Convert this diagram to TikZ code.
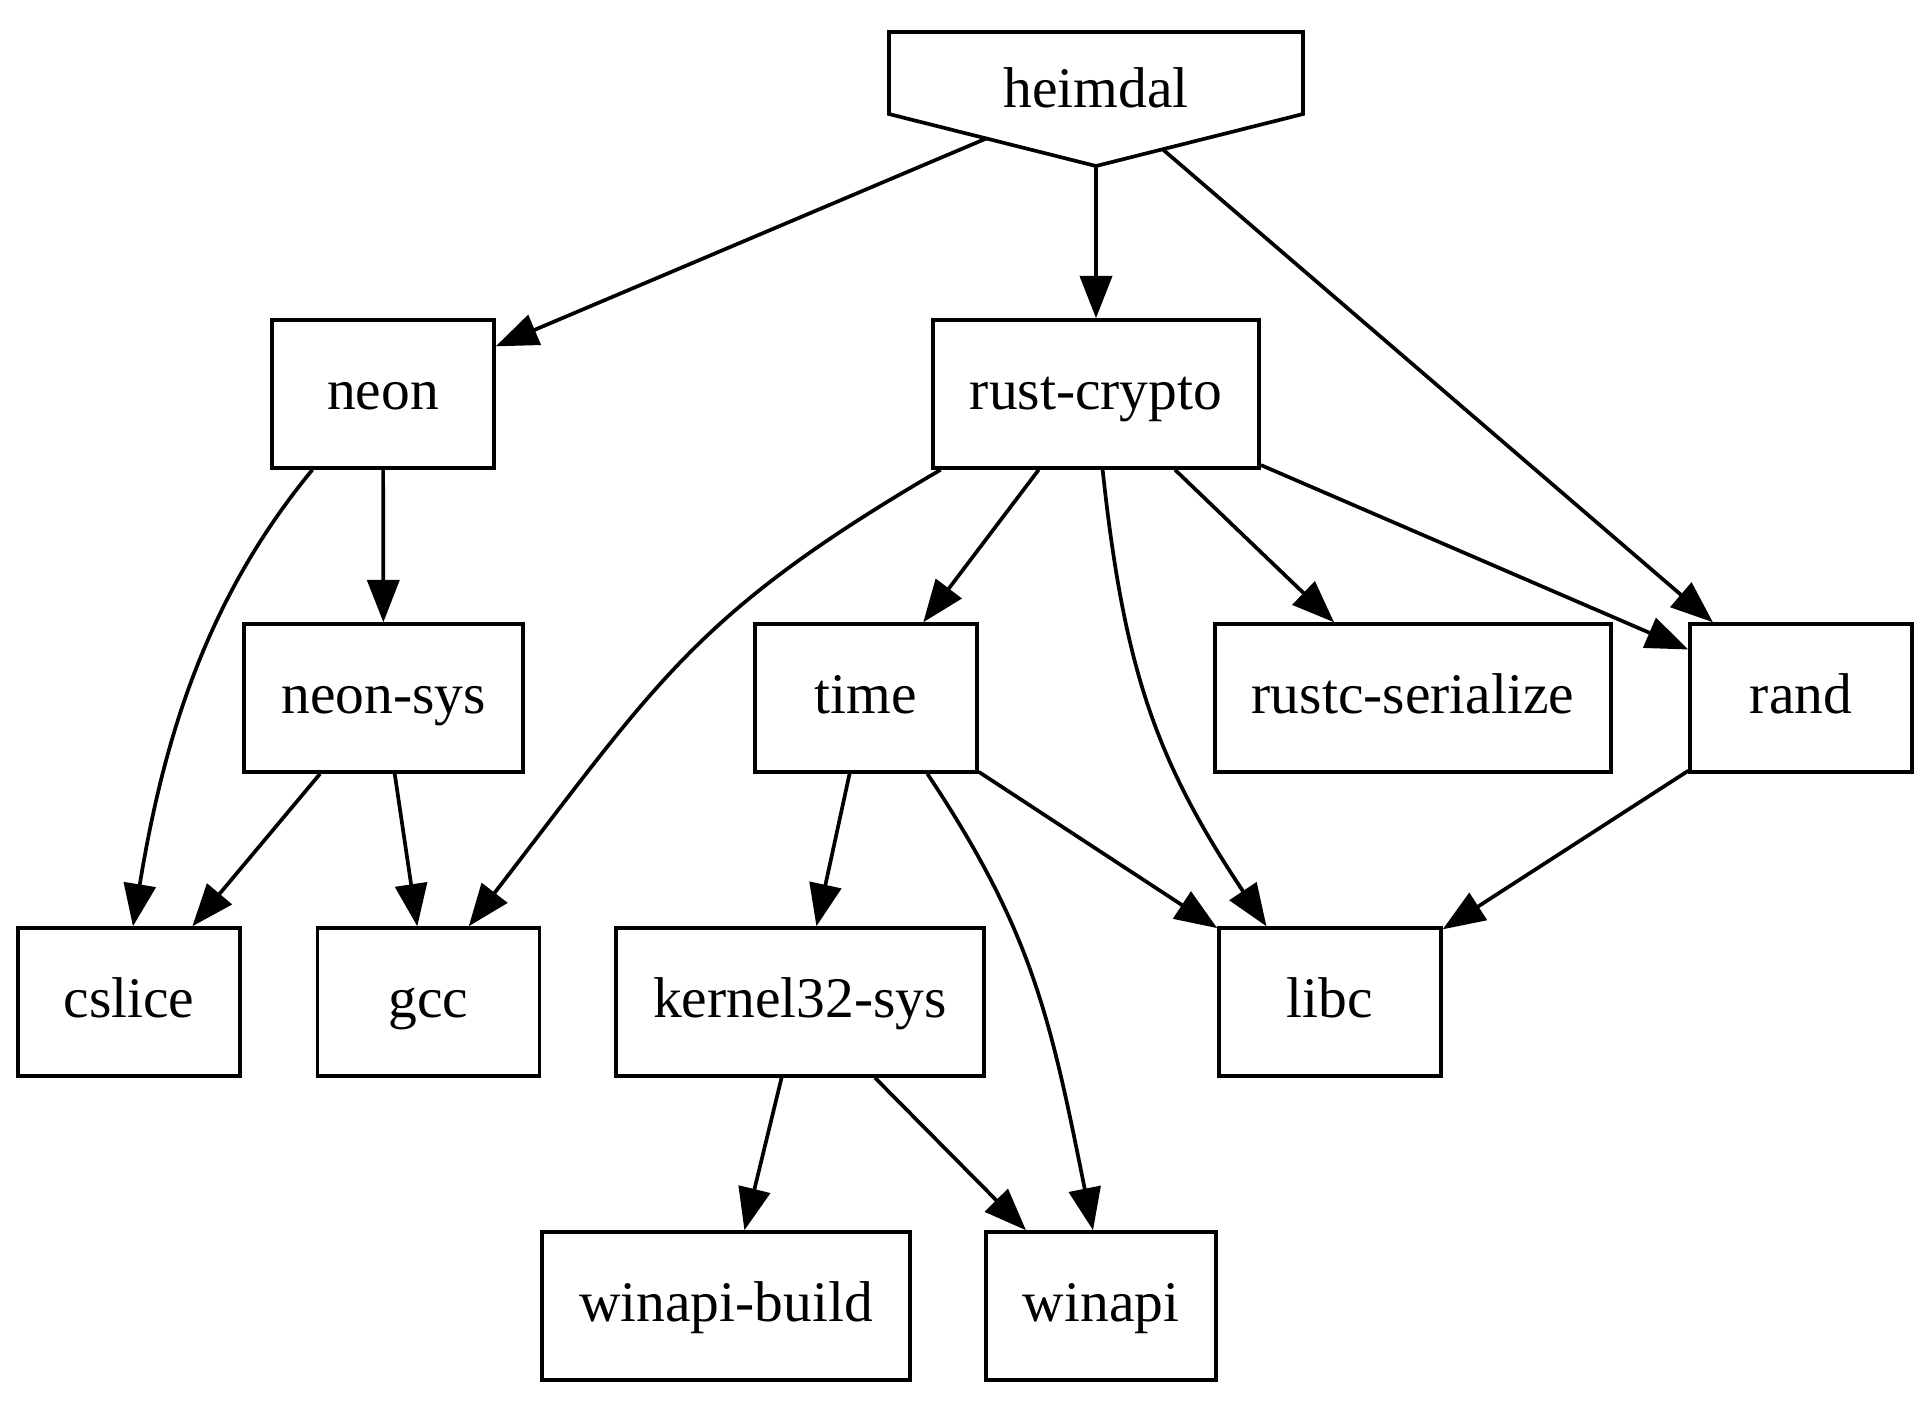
\documentclass[tikz,border=0pt]{standalone}
\usepackage{fontspec}
\setmainfont{Liberation Serif}
\usetikzlibrary{arrows.meta,backgrounds}
\begin{document}
\begin{tikzpicture}[x=0.2435pt,y=-0.2435pt,
  lbl/.style={inner xsep=9pt,inner ysep=0pt,text height=10pt,text depth=2.4pt,font=\fontsize{14pt}{16pt}\selectfont},
  box/.style={lbl,draw,line width=0.9pt,rectangle,minimum width=54pt,minimum height=36pt},
  dep/.style={line width=0.9pt,-{Triangle[length=10.3pt,width=7.8pt]}}]
\useasboundingbox (0,0) rectangle (1929,1400);
% nodes
\node[lbl] (heimdal) at (1096,92) {heimdal};
\node[box] (neon) at (383,394) {neon};
\node[box] (rustcrypto) at (1096,394) {rust-crypto};
\node[box] (neonsys) at (383.5,698) {neon-sys};
\node[box] (time) at (866,698) {time};
\node[box] (rustc) at (1413,698) {rustc-serialize};
\node[box] (rand) at (1801,698) {rand};
\node[box] (cslice) at (129,1002) {cslice};
\node[box] (gcc) at (428.5,1002) {gcc};
\node[box] (kernel) at (800,1002) {kernel32-sys};
\node[box] (libc) at (1330,1002) {libc};
\node[box] (winapibuild) at (726,1306) {winapi-build};
\node[box] (winapi) at (1101,1306) {winapi};
% edges
\begin{scope}[on background layer]
\draw[dep] (heimdal.center) -- (neon);
\draw[dep] (heimdal.center) -- (rustcrypto);
\draw[dep] (heimdal.center) -- (rand);
\draw[dep] (neon.227) .. controls (210,594) and (165,730) .. (cslice.87);
\draw[dep] (neon) -- (neonsys);
\draw[dep] (rustcrypto.206) .. controls (694,614) and (659,680) .. (gcc.62);
\draw[dep] (rustcrypto) -- (time);
\draw[dep] (rustcrypto.275) .. controls (1124,669) and (1156,761) .. (libc.130);
\draw[dep] (rustcrypto) -- (rustc);
\draw[dep] (rustcrypto) -- (rand);
\draw[dep] (neonsys) -- (cslice);
\draw[dep] (neonsys) -- (gcc);
\draw[dep] (time) -- (kernel);
\draw[dep] (time.309) .. controls (1032,931) and (1050,1016) .. (winapi.96);
\draw[dep] (time) -- (libc);
\draw[dep] (rand) -- (libc);
\draw[dep] (kernel) -- (winapibuild);
\draw[dep] (kernel) -- (winapi);
% heimdal outline (inverted house), drawn over the edge starts
\draw[line width=0.9pt,fill=white,line join=miter]
  (889,32) -- (1303,32) -- (1303,114) -- (1096,166) -- (889,114) -- cycle;
\end{scope}
\end{tikzpicture}
\end{document}
